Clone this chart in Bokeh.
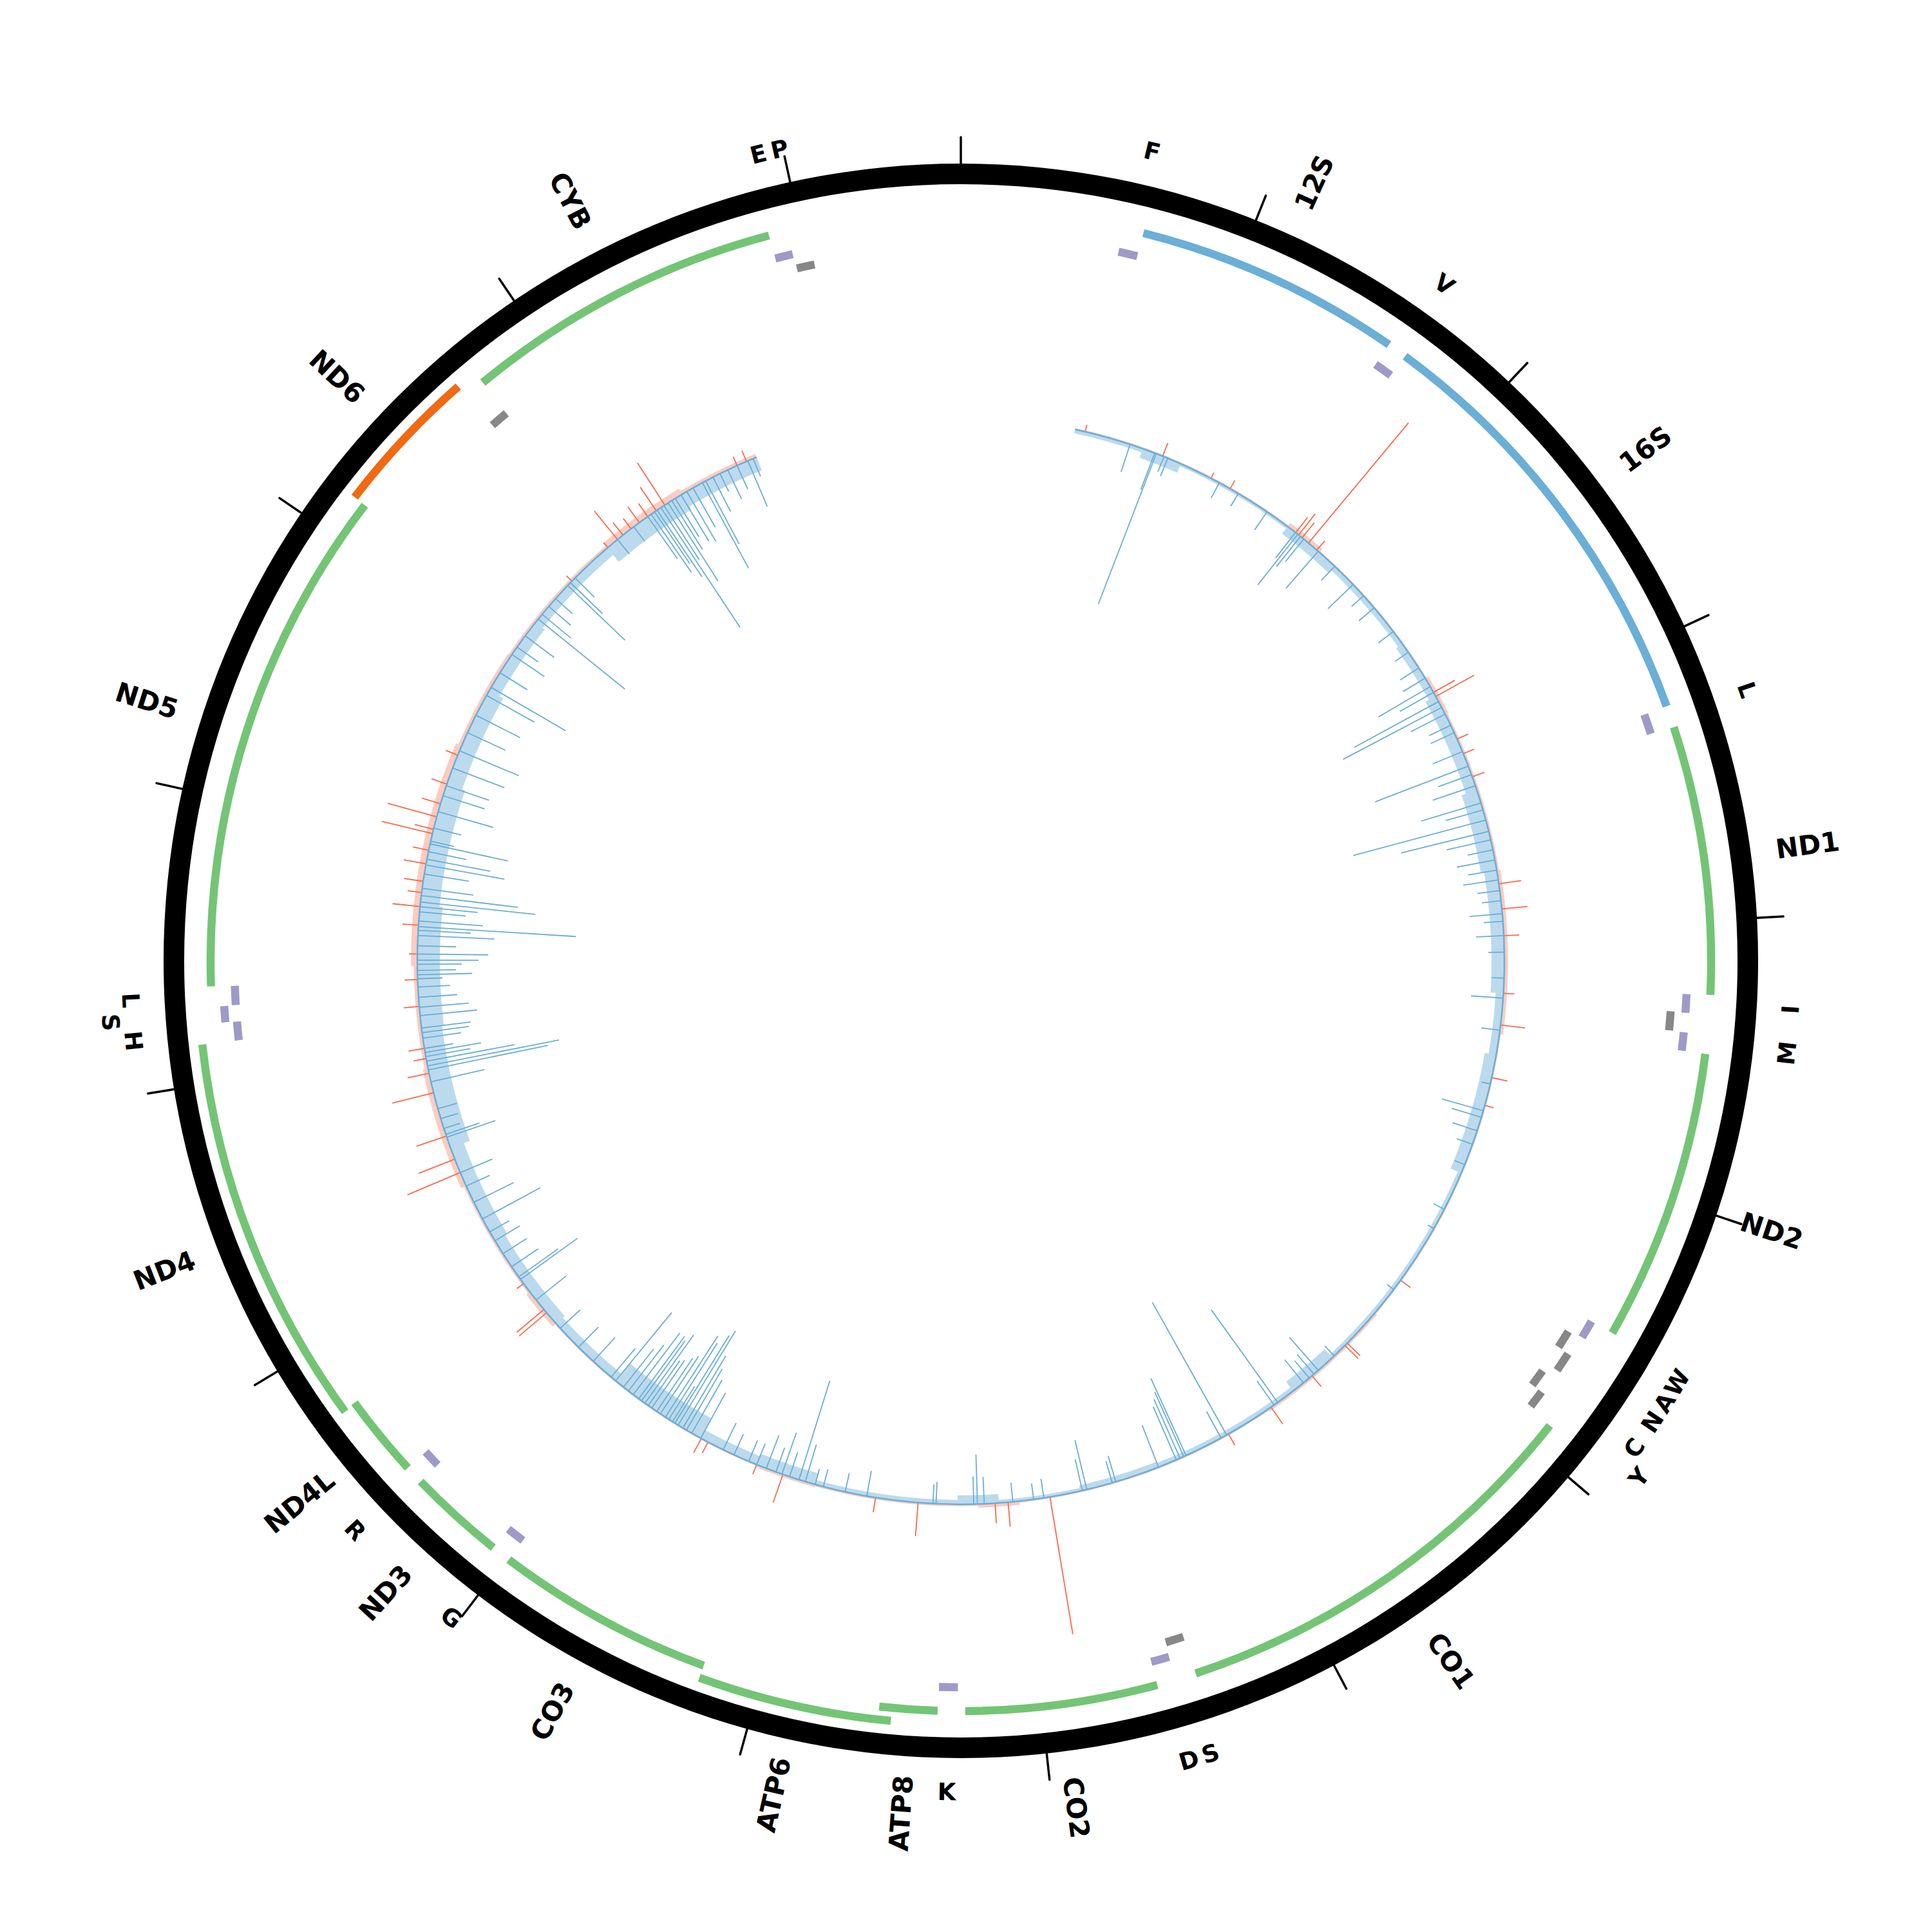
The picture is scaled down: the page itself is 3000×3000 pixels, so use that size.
import numpy as np
from bokeh.plotting import figure
from bokeh.core.properties import value
from bokeh.embed import file_html
from bokeh.resources import INLINE

# ---------------- data ----------------
GENOME_LEN = 16569
TICK_POS = list(range(0, 16001, 1000))

gene_name = ["12S", "16S", "ND1", "ND2", "CO1", "CO2", "ATP8", "ATP6", "CO3",
             "ND3", "ND4L", "ND4", "ND5", "ND6", "CYB"]
gene_start = [648, 1671, 3307, 4470, 5904, 7586, 8366, 8527, 9207,
              10059, 10470, 10760, 12337, 14149, 14747]
gene_end = [1601, 3229, 4262, 5511, 7445, 8269, 8572, 9207, 9990,
            10404, 10766, 12137, 14148, 14673, 15887]
gene_type = ["rRNA", "rRNA", "CDS", "CDS", "CDS", "CDS", "CDS", "CDS", "CDS",
             "CDS", "CDS", "CDS", "CDS", "CDS-L", "CDS"]

trna_label = ["F", "V", "L", "I", "", "M", "W", "A", "N", "C", "Y", "S", "D", "K",
              "G", "R", "H", "S", "L", "", "E", "P"]
trna_start = [577, 1602, 3230, 4263, 4329, 4402, 5512, 5587, 5657, 5761, 5826, 7446,
              7518, 8295, 9991, 10405, 12138, 12207, 12266, 14674, 15888, 15956]
trna_end = [647, 1670, 3304, 4331, 4400, 4469, 5579, 5655, 5729, 5826, 5891, 7514,
            7585, 8364, 10058, 10469, 12206, 12265, 12336, 14742, 15953, 16023]
trna_strand = ["H", "H", "H", "H", "L", "H", "H", "L", "L", "L", "L", "L",
               "H", "H", "H", "H", "H", "H", "H", "L", "H", "L"]

TRACK_START, TRACK_END = 558, 15553

# per-position signal: blue (plotted inward), red (plotted outward)
blue_spikes = [
    (835, 45), (962, 61), (970, 250), (1010, 25), (1030, 30), (1307, 27), (1413, 23), (1578, 34),
    (1749, 50), (1763, 100), (1780, 60), (1800, 45), (1892, 76), (2000, 30), (2126, 54), (2200, 25),
    (2278, 31), (2426, 29), (2550, 25), (2642, 34), (2700, 40), (2748, 93), (2780, 60), (2831, 149),
    (2863, 173), (2900, 60), (2960, 37), (3000, 40), (3100, 50), (3176, 155), (3220, 55), (3277, 70),
    (3365, 97), (3400, 60), (3451, 213), (3508, 140), (3550, 70), (3600, 40), (3650, 60), (3700, 45),
    (3748, 55), (3800, 35), (3850, 30), (3913, 51), (3950, 30), (4020, 43), (4100, 25), (4226, 19),
    (4323, 50), (4480, 29), (4745, 14), (4879, 67), (4912, 48), (4981, 40), (5050, 26), (5156, 17),
    (5394, 19), (5500, 11), (5855, 13), (6288, 21), (6392, 68), (6420, 40), (6450, 35), (6486, 46),
    (6643, 177), (6665, 46), (6937, 236), (6968, 47), (7158, 132), (7170, 110), (7190, 100), (7210, 90),
    (7303, 70), (7522, 42), (7540, 35), (7668, 79), (7690, 50), (7880, 30), (7930, 25), (8032, 30),
    (8171, 42), (8204, 77), (8222, 43), (8405, 34), (8420, 30), (8743, 40), (8850, 30), (8959, 28),
    (9000, 25), (9050, 60), (9082, 161), (9130, 40), (9169, 68), (9200, 40), (9250, 55), (9300, 35),
    (9342, 35), (9420, 35), (9478, 46), (9600, 80), (9650, 95), (9680, 110), (9700, 130), (9727, 171),
    (9745, 160), (9759, 65), (9780, 140), (9800, 150), (9829, 107), (9850, 100), (9880, 90), (9900, 85),
    (9920, 130), (9940, 115), (9957, 120), (9990, 120), (10020, 90), (10050, 75), (10099, 137),
    (10127, 58), (10243, 50), (10342, 44), (10470, 42), (10650, 60), (10775, 109), (10790, 75),
    (10850, 50), (10926, 44), (11000, 45), (11050, 35), (11122, 102), (11213, 69), (11300, 40),
    (11371, 54), (11555, 80), (11570, 55), (11600, 26), (11650, 28), (11700, 31), (11835, 85),
    (11894, 189), (11914, 208), (11937, 139), (11960, 70), (11980, 88), (12000, 45), (12050, 60),
    (12077, 73), (12100, 77), (12160, 89), (12201, 77), (12250, 60), (12300, 50), (12340, 39),
    (12359, 85), (12380, 60), (12410, 69), (12430, 95), (12460, 110), (12500, 60), (12550, 119),
    (12575, 82), (12593, 245), (12620, 100), (12665, 72), (12690, 90), (12713, 179), (12744, 151),
    (12780, 80), (12850, 70), (12894, 124), (12923, 100), (12960, 60), (12999, 124), (13012, 37),
    (13077, 44), (13160, 89), (13241, 68), (13292, 70), (13383, 86), (13473, 100), (13569, 65),
    (13663, 77), (13772, 85), (13817, 134), (13900, 50), (14006, 61), (14050, 40), (14117, 56),
    (14220, 173), (14250, 58), (14300, 45), (14350, 35), (14437, 123), (14456, 69), (14488, 42),
    (14766, 29), (14866, 28), (14950, 80), (14970, 110), (14990, 97), (15005, 125), (15027, 223),
    (15045, 100), (15069, 144), (15090, 90), (15110, 70), (15143, 84), (15175, 90), (15210, 70),
    (15262, 151), (15280, 111), (15320, 60), (15358, 31), (15400, 50), (15450, 40), (15507, 77),
    (15535, 30),
]
red_spikes = [
    (609, 11), (1003, 22), (1261, 10), (1367, 15), (1750, 30), (1768, 42), (1790, 30), (1830, 243),
    (1883, 19), (2780, 38), (2803, 68), (3034, 19), (3111, 18), (3231, 20), (3767, 35), (3890, 40),
    (4020, 24), (4300, 17), (4454, 38), (4713, 25), (4852, 14), (5799, 19), (6199, 28), (6215, 29),
    (6432, 22), (6683, 32), (6927, 20), (7850, 216), (8055, 38), (8118, 31), (8492, 52), (8700, 23),
    (9164, 46), (9300, 16), (9560, 19), (9597, 25), (10570, 56), (10590, 55), (10750, 13),
    (11372, 89), (11442, 60), (11561, 49), (11780, 66), (11877, 34), (11950, 20), (12000, 25),
    (12205, 24), (12336, 20), (12460, 13), (12600, 25), (12691, 43), (12759, 22), (12814, 30),
    (12900, 35), (12967, 25), (13050, 81), (13072, 30), (13134, 79), (13200, 30), (13300, 25),
    (13450, 20), (14466, 12), (14705, 10), (14766, 57), (14800, 25), (14850, 20), (14900, 30),
    (14950, 25), (15000, 44), (15050, 78), (15450, 15), (15500, 18),
]
# background level of the dense low signal, per region
blue_fuzz_edges = [558, 900, 1100, 1700, 2000, 2500, 2800, 3300, 3700, 4300, 4600, 5200, 5900,
                   6300, 6550, 7300, 7700, 8100, 8300, 9000, 9300, 9600, 10100, 10500, 11000,
                   11500, 12100, 12700, 13300, 13800, 14200, 14700, 15150, 15553]
blue_fuzz = [6, 15, 4, 14, 8, 12, 18, 25, 20, 12, 18, 6, 6, 18, 7, 9, 5, 14, 7, 18, 14, 35,
             14, 18, 22, 32, 35, 30, 25, 18, 14, 28, 22]
red_fuzz_edges = [558, 1700, 1900, 2700, 2900, 3700, 4500, 6000, 6700, 8000, 8200, 9000, 9300,
                  10500, 10700, 11300, 11900, 12400, 13500, 14000, 14700, 15150, 15553]
red_fuzz = [3, 10, 3, 8, 5, 8, 3, 6, 3, 8, 4, 6, 3, 10, 5, 12, 8, 14, 8, 6, 14, 8]

# ---------------- layout / style ----------------
W = H = 2984
CX = CY = 1491.5
R_RING_IN, R_RING_OUT = 1206, 1238
R_TICK_OUT = 1279
R_GENE, GENE_BUMP, BAR_W = 1165, 20, 12.5
R_TRNA = {"H": 1128, "L": 1105}
TRNA_BUMP = 18
R_GENE_LABEL = 1327
R_TRNA_LABEL, LABEL_BUMP = 1291, 33
R_BASE = 844
SIG_SCALE = 1.0
FONT = "DejaVu Sans"
COL = {"rRNA": "#6baed6", "CDS": "#74c476", "CDS-L": "#f16913", "H": "#9e9ac8", "L": "#878787"}
BLUE, RED = "#6baed6", "#fb6a4a"


def ang(pos):
    return np.pi / 2 - 2 * np.pi * np.asarray(pos, dtype=float) / GENOME_LEN


def polar(pos, r):
    a = ang(pos)
    r = np.asarray(r, dtype=float)
    return r * np.cos(a), r * np.sin(a)


def stack_levels(starts, ends):
    lev = [0] * len(starts)
    prev_end, prev_lev = None, 0
    for i in sorted(range(len(starts)), key=lambda k: starts[k]):
        if prev_end is not None and starts[i] - prev_end <= 2:
            lev[i] = 1 - prev_lev
        prev_end, prev_lev = ends[i], lev[i]
    return lev


p = figure(width=W, height=H, x_range=(-CX, W - CX), y_range=(-(H - CY), CY),
           output_backend="svg", toolbar_location=None, min_border=0,
           x_axis_type=None, y_axis_type=None)
p.grid.visible = False
p.outline_line_color = None
p.background_fill_color = "white"
p.border_fill_color = "white"

# outer ring and ticks
p.annulus(x=0, y=0, inner_radius=R_RING_IN, outer_radius=R_RING_OUT,
          fill_color="black", line_color=None)
tx0, ty0 = polar(TICK_POS, R_RING_OUT - 4)
tx1, ty1 = polar(TICK_POS, R_TICK_OUT)
p.segment(tx0, ty0, tx1, ty1, line_color="black", line_width=3.5, line_cap="round")

# genes
glev = stack_levels(gene_start, gene_end)
gr = np.array([R_GENE + GENE_BUMP * l for l in glev])
p.annular_wedge(x=0, y=0, inner_radius=gr - BAR_W / 2, outer_radius=gr + BAR_W / 2,
                start_angle=ang(gene_end), end_angle=ang(gene_start), direction="anticlock",
                fill_color=[COL[t] for t in gene_type], line_color=None)

# tRNAs
tr = np.zeros(len(trna_start))
for s in ("H", "L"):
    idx = [i for i in range(len(trna_start)) if trna_strand[i] == s]
    lev = stack_levels([trna_start[i] for i in idx], [trna_end[i] for i in idx])
    for i, l in zip(idx, lev):
        tr[i] = R_TRNA[s] + TRNA_BUMP * l
p.annular_wedge(x=0, y=0, inner_radius=tr - BAR_W / 2, outer_radius=tr + BAR_W / 2,
                start_angle=ang(trna_end), end_angle=ang(trna_start), direction="anticlock",
                fill_color=[COL[s] for s in trna_strand], line_color=None)

# gene labels (radial)
gmid = (np.array(gene_start) + np.array(gene_end)) / 2
gth = gmid / GENOME_LEN * 360
gang = np.where(gth < 180, 90 - gth, 270 - gth)
gx, gy = polar(gmid, R_GENE_LABEL)
p.text(gx, gy, text=gene_name, angle=np.radians(gang), text_align="center",
       text_baseline="middle", text_font=value(FONT), text_font_size=value("42px"),
       text_font_style="bold", text_color="black")

# tRNA labels (tangential)
lab_idx = [i for i in range(len(trna_label)) if trna_label[i]]
lab_idx.sort(key=lambda i: trna_start[i] + trna_end[i])
lmid, lrad, ltxt = [], [], []
prev_mid, prev_b = None, False
for i in lab_idx:
    m = (trna_start[i] + trna_end[i]) / 2
    b = prev_mid is not None and (m - prev_mid) < 68 and not prev_b
    lmid.append(m)
    lrad.append(R_TRNA_LABEL + (LABEL_BUMP if b else 0))
    ltxt.append(trna_label[i])
    prev_mid, prev_b = m, b
lth = np.array(lmid) / GENOME_LEN * 360
lang = np.where((lth <= 90) | (lth >= 270), -lth, 180 - lth)
lx, ly = polar(lmid, lrad)
p.text(lx, ly, text=ltxt, angle=np.radians(lang), text_align="center",
       text_baseline="middle", text_font=value(FONT), text_font_size=value("37px"),
       text_font_style="bold", text_color="black")

# inner signal track: dense background level
be = np.array(blue_fuzz_edges, dtype=float)
bf = np.array(blue_fuzz, dtype=float) * SIG_SCALE
p.annular_wedge(x=0, y=0, inner_radius=R_BASE - bf, outer_radius=np.full(len(bf), R_BASE),
                start_angle=ang(be[1:]), end_angle=ang(be[:-1]), direction="anticlock",
                fill_color=BLUE, fill_alpha=0.45, line_color=None)
re_ = np.array(red_fuzz_edges, dtype=float)
rf = np.array(red_fuzz, dtype=float) * SIG_SCALE * 0.7
p.annular_wedge(x=0, y=0, inner_radius=np.full(len(rf), R_BASE), outer_radius=R_BASE + rf,
                start_angle=ang(re_[1:]), end_angle=ang(re_[:-1]), direction="anticlock",
                fill_color=RED, fill_alpha=0.35, line_color=None)

# spikes
bpos = np.array([s[0] for s in blue_spikes], dtype=float)
bval = np.array([s[1] for s in blue_spikes], dtype=float) * SIG_SCALE
x0, y0 = polar(bpos, np.full(len(bpos), R_BASE))
x1, y1 = polar(bpos, R_BASE - bval)
p.segment(x0, y0, x1, y1, line_color=BLUE, line_width=1.8)

rpos = np.array([s[0] for s in red_spikes], dtype=float)
rval = np.array([s[1] for s in red_spikes], dtype=float) * SIG_SCALE
x0, y0 = polar(rpos, np.full(len(rpos), R_BASE))
x1, y1 = polar(rpos, R_BASE + rval)
p.segment(x0, y0, x1, y1, line_color=RED, line_width=1.8)

# baseline
p.arc(x=0, y=0, radius=R_BASE, start_angle=ang(TRACK_END), end_angle=ang(TRACK_START),
      direction="anticlock", line_color=BLUE, line_width=2.5)

open("out.html", "w").write(file_html(p, INLINE))
